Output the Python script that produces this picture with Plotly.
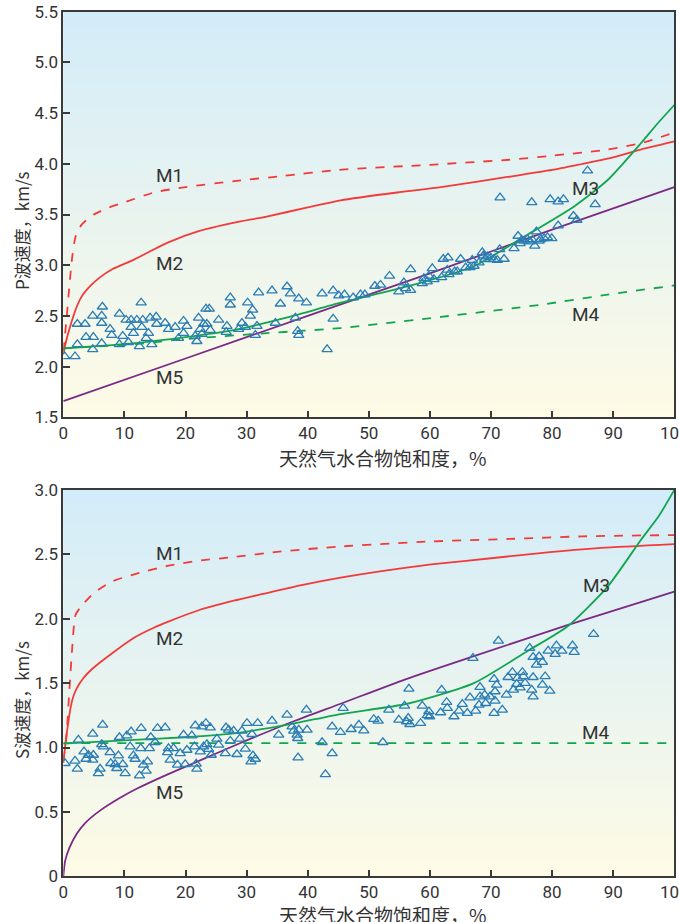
import plotly.graph_objects as go

# ---------------- data ----------------
# P-wave model curves (x = hydrate saturation %, y = km/s)
P_M1_x = [0, 0.5, 1, 1.5, 2, 3, 5, 7.5, 10, 15, 20, 28, 36, 45, 60, 73, 80, 89, 95, 100]
P_M1_y = [2.15, 2.45, 2.8, 3.1, 3.28, 3.4, 3.5, 3.57, 3.62, 3.72, 3.77, 3.83, 3.88, 3.94, 3.99, 4.04, 4.08, 4.14, 4.21, 4.31]
P_M2_x = [0, 0.5, 1, 1.5, 2.2, 3, 4.5, 6, 8, 11.4, 14, 17, 22.4, 28, 33.3, 40, 45.4, 55, 61.8, 72.7, 80, 85, 89.1, 94.5, 100]
P_M2_y = [2.12, 2.26, 2.37, 2.47, 2.59, 2.69, 2.8, 2.88, 2.96, 3.05, 3.13, 3.22, 3.34, 3.42, 3.48, 3.57, 3.64, 3.72, 3.77, 3.87, 3.94, 4.0, 4.05, 4.14, 4.22]
P_M3_x = [0, 11.4, 20, 27.9, 37, 45.4, 56.3, 67.2, 75.4, 83.6, 89.1, 94.5, 97.3, 100]
P_M3_y = [2.18, 2.23, 2.29, 2.36, 2.49, 2.63, 2.79, 2.99, 3.28, 3.58, 3.84, 4.2, 4.4, 4.58]
P_M4_x = [0, 11.4, 19.7, 33.3, 45.4, 61.8, 78.1, 89.1, 100]
P_M4_y = [2.18, 2.22, 2.27, 2.33, 2.38, 2.49, 2.61, 2.71, 2.80]
P_M5_x = [0, 20, 40, 60, 80, 100]
P_M5_y = [1.66, 2.08, 2.5, 2.92, 3.35, 3.77]

# P-wave measured points
P_pts_x = [0.23, 1.92, 2.30, 2.30, 3.56, 3.72, 4.92, 4.82, 4.82, 6.29,
           6.40, 6.29, 6.29, 7.66, 7.93, 9.19, 9.19, 9.73, 10.28, 11.10,
           11.10, 11.48, 10.66, 12.03, 12.74, 13.01, 12.85, 12.46, 13.94, 13.56,
           14.21, 15.20, 15.30, 14.49, 16.67, 17.22, 18.31, 18.86, 19.68, 20.23,
           19.68, 21.59, 21.86, 22.14, 22.41, 22.96, 23.34, 23.89, 22.68, 23.50,
           24.05, 25.42, 26.78, 26.67, 27.33, 27.33, 28.69, 29.24, 29.79, 30.17,
           30.99, 30.61, 31.70, 31.43, 31.97, 34.16, 34.71, 35.53, 36.62, 37.16,
           37.98, 38.53, 39.79, 38.36, 38.53, 42.36, 43.18, 44.16, 44.16, 45.09,
           46.02, 47.44, 48.64, 49.35, 50.99, 51.92, 53.39, 54.92, 55.74, 56.02,
           56.84, 56.84, 58.75, 59.02, 59.57, 59.84, 60.39, 60.66, 61.92, 62.19,
           62.96, 62.85, 63.12, 64.05, 64.49, 65.03, 65.85, 66.56, 66.94, 67.22,
           68.04, 68.58, 68.75, 68.97, 69.40, 69.95, 70.50, 71.04, 71.43, 72.14,
           71.48, 73.77, 74.43, 74.76, 75.03, 75.41, 75.96, 76.40, 76.78, 77.16,
           77.44, 77.87, 78.15, 78.69, 79.24, 79.95, 76.67, 79.68, 80.99, 81.86,
           80.99, 83.50, 84.05, 85.80, 87.05]
P_pts_y = [2.10, 2.10, 2.22, 2.42, 2.42, 2.29, 2.29, 2.17, 2.50, 2.50,
           2.59, 2.43, 2.23, 2.37, 2.31, 2.52, 2.22, 2.30, 2.46, 2.46,
           2.39, 2.33, 2.24, 2.46, 2.63, 2.46, 2.39, 2.20, 2.33, 2.28,
           2.48, 2.49, 2.42, 2.22, 2.43, 2.37, 2.39, 2.28, 2.45, 2.40,
           2.33, 2.30, 2.25, 2.48, 2.37, 2.42, 2.57, 2.57, 2.32, 2.42,
           2.36, 2.46, 2.40, 2.34, 2.68, 2.61, 2.37, 2.43, 2.39, 2.63,
           2.56, 2.50, 2.40, 2.31, 2.73, 2.75, 2.43, 2.62, 2.79, 2.72,
           2.48, 2.67, 2.63, 2.35, 2.31, 2.72, 2.17, 2.75, 2.47, 2.70,
           2.71, 2.68, 2.71, 2.71, 2.795, 2.805, 2.894, 2.74, 2.828, 2.772,
           2.755, 2.959, 2.821, 2.871, 2.838, 2.894, 2.969, 2.861, 2.88, 3.061,
           3.074, 2.953, 2.91, 2.936, 2.936, 3.061, 2.976, 2.979, 3.051, 2.992,
           3.025, 3.127, 3.094, 3.058, 3.084, 3.074, 3.058, 3.051, 3.156, 3.061,
           3.666, 3.166, 3.288, 3.216, 3.249, 3.239, 3.255, 3.232, 3.249, 3.19,
           3.331, 3.239, 3.255, 3.265, 3.275, 3.265, 3.62, 3.65, 3.627, 3.65,
           3.39, 3.485, 3.446, 3.932, 3.60]

# S-wave model curves
S_M1_x = [0, 0.5, 1, 1.5, 2, 3, 5, 8, 12, 17, 22, 28, 35, 45, 60, 73, 85, 100]
S_M1_y = [0.9, 1.08, 1.45, 1.8, 2.03, 2.1, 2.2, 2.29, 2.35, 2.41, 2.45, 2.48, 2.52, 2.56, 2.6, 2.62, 2.64, 2.65]
S_M2_x = [0, 0.4, 0.8, 1.2, 1.6, 2.2, 3.3, 4.5, 6, 8.5, 11.5, 14.8, 17.3, 22.4, 27.9, 33.3, 38.8, 45.4, 55, 61.8, 70, 78.1, 88, 100]
S_M2_y = [0.88, 1.05, 1.19, 1.31, 1.39, 1.46, 1.54, 1.6, 1.66, 1.75, 1.85, 1.93, 1.98, 2.07, 2.14, 2.2, 2.26, 2.32, 2.39, 2.43, 2.47, 2.51, 2.55, 2.58]
S_M3_x = [0, 11.5, 20, 27.9, 37, 45.4, 56.3, 67.2, 76, 82.5, 89.1, 94.5, 97.5, 100]
S_M3_y = [1.03, 1.06, 1.08, 1.11, 1.18, 1.26, 1.34, 1.5, 1.75, 1.94, 2.25, 2.61, 2.8, 3.0]
S_M4_x = [0, 100]
S_M4_y = [1.035, 1.035]
S_M5_x = [0, 0.3, 1, 2.2, 3.5, 6, 9.3, 12, 17, 22.4, 29, 37.5, 45.4, 56, 67.2, 82.5, 100]
S_M5_y = [0, 0.12, 0.22, 0.33, 0.41, 0.51, 0.61, 0.68, 0.79, 0.9, 1.035, 1.2, 1.34, 1.53, 1.71, 1.95, 2.21]

# S-wave measured points
S_pts_x = [0.28, 1.92, 2.30, 2.47, 3.39, 3.72, 4.10, 4.92, 4.82, 4.82,
           6.02, 5.74, 6.29, 6.45, 6.56, 7.66, 7.77, 8.48, 8.75, 9.02,
           9.19, 9.73, 10.12, 10.39, 10.94, 11.10, 11.48, 11.75, 12.47, 12.68,
           12.74, 13.12, 13.56, 13.78, 14.10, 14.32, 15.03, 15.42, 16.67, 17.22,
           17.06, 18.04, 17.49, 18.70, 19.13, 19.68, 19.95, 20.23, 21.04, 21.48,
           21.59, 21.75, 21.86, 22.41, 22.68, 22.96, 23.34, 23.50, 23.78, 24.05,
           24.21, 25.14, 25.42, 26.51, 26.62, 27.06, 27.33, 27.88, 28.42, 28.86,
           29.24, 29.79, 30.06, 30.72, 31.04, 31.43, 31.81, 30.88, 34.16, 35.25,
           36.62, 37.44, 37.71, 38.26, 38.42, 38.37, 38.53, 39.79, 39.90, 42.36,
           42.90, 44.00, 44.00,
           45.36, 45.80, 47.11, 48.37, 49.18, 50.82, 51.53, 52.30, 53.28, 54.92,
           55.85, 56.18, 56.45, 56.73, 56.56, 58.47, 58.75, 59.57, 59.84, 59.95,
           61.75, 61.92, 62.74, 62.85, 63.94, 64.76, 65.30, 66.12, 66.56, 67.05,
           67.49, 68.04, 68.20, 68.20, 68.97, 69.13, 69.84, 70.50, 70.50, 70.66,
           70.66, 70.93, 71.21, 71.86, 72.52, 72.79, 73.50, 73.67, 74.21, 74.32,
           74.76, 75.14, 75.30, 75.58, 76.34, 76.67, 76.89, 76.89, 76.89, 77.44,
           77.87, 78.42, 78.42, 78.86, 79.35, 79.62, 80.50, 80.71, 81.59, 83.34,
           83.61, 86.78]
S_pts_y = [0.878, 0.896, 0.834, 1.059, 0.968, 0.911, 0.942, 0.942, 0.904, 1.106,
           0.834, 0.800, 1.025, 1.176, 1.007, 0.963, 0.878, 0.870, 0.839, 0.937,
           1.080, 0.870, 0.800, 1.093, 1.007, 1.124, 0.937, 0.911, 0.782, 0.994,
           1.150, 0.865, 0.818, 0.891, 0.994, 1.080, 1.041, 1.150, 1.155, 0.994,
           0.963, 0.994, 0.904, 0.865, 0.955, 1.098, 0.870, 0.981, 1.093, 1.007,
           1.170, 0.873, 0.834, 0.968, 1.163, 1.007, 1.189, 1.025, 0.987, 1.155,
           0.942, 1.067, 1.020, 0.955, 1.155, 1.137, 1.051, 1.129, 0.948, 1.067,
           1.129, 0.989, 1.189, 0.891, 0.937, 0.911, 1.189, 1.103, 1.207, 1.098,
           1.253, 1.163, 1.129, 1.098, 0.922, 1.072, 1.137, 1.292, 1.137, 1.041,
           0.792, 0.955, 1.163,
           1.119, 1.306, 1.142, 1.176, 1.132, 1.220, 1.207, 1.041, 1.293, 1.215,
           1.324, 1.202, 1.228, 1.181, 1.456, 1.189, 1.324, 1.249, 1.280, 1.241,
           1.272, 1.448, 1.352, 1.306, 1.241, 1.285, 1.337, 1.267, 1.388, 1.694,
           1.285, 1.331, 1.469, 1.396, 1.409, 1.344, 1.396, 1.531, 1.267, 1.435,
           1.362, 1.487, 1.829, 1.293, 1.409, 1.546, 1.585, 1.448, 1.492, 1.539,
           1.466, 1.585, 1.552, 1.500, 1.772, 1.448, 1.546, 1.396, 1.702, 1.642,
           1.707, 1.663, 1.487, 1.552, 1.751, 1.440, 1.725, 1.792, 1.751, 1.792,
           1.741, 1.880]

# tick labels
X_TICKS = [0, 10, 20, 30, 40, 50, 60, 70, 80, 90, 100]
P_YTICKS = [1.5, 2.0, 2.5, 3.0, 3.5, 4.0, 4.5, 5.0, 5.5]
P_YTICKTEXT = ["1.5", "2.0", "2.5", "3.0", "3.5", "4.0", "4.5", "5.0", "5.5"]
S_YTICKS = [0, 0.5, 1.0, 1.5, 2.0, 2.5, 3.0]
S_YTICKTEXT = ["0", "0.5", "1.0", "1.5", "2.0", "2.5", "3.0"]

# curve labels
P_LABELS = [("M1", 17.3, 3.88), ("M2", 17.3, 3.02), ("M5", 17.3, 1.89), ("M3", 85.5, 3.76), ("M4", 85.5, 2.51)]
S_LABELS = [("M1", 17.3, 2.51), ("M2", 17.3, 1.85), ("M5", 17.3, 0.65), ("M3", 87.2, 2.26), ("M4", 87.2, 1.12)]

X_TITLE = "天然气水合物饱和度，%"
P_Y_TITLE = "P波速度，km/s"
S_Y_TITLE = "S波速度，km/s"

# ---------------- styling ----------------
RED = "#f23a3a"
GREEN = "#12a550"
PURPLE = "#7b2a86"
BLUE = "#2a7db5"
AX = "#3a3a3a"
NUM_FONT = "Liberation Sans Narrow, Roboto, Arial, sans-serif"
CJK_FONT = "Noto Sans CJK SC, sans-serif"

W, H = 679, 922
xl, xr = 63.3 / W, 674.3 / W
top_dom = [1 - 417.3 / H, 1 - 11.7 / H]
bot_dom = [1 - 876.3 / H, 1 - 490.0 / H]

fig = go.Figure()


def add_curves(xa, ya, curves):
    for x, y, color, dash in curves:
        fig.add_trace(go.Scatter(x=x, y=y, mode="lines", xaxis=xa, yaxis=ya,
                                 line=dict(color=color, width=1.8, dash=dash, shape="spline", smoothing=0.6),
                                 hoverinfo="skip", showlegend=False))


add_curves("x", "y", [
    (P_M1_x, P_M1_y, RED, "dash"),
    (P_M2_x, P_M2_y, RED, "solid"),
    (P_M4_x, P_M4_y, GREEN, "dash"),
    (P_M5_x, P_M5_y, PURPLE, "solid"),
    (P_M3_x, P_M3_y, GREEN, "solid"),
])
fig.add_trace(go.Scatter(x=P_pts_x, y=P_pts_y, mode="markers", xaxis="x", yaxis="y",
                         marker=dict(symbol="triangle-up-open", size=9, color=BLUE, line=dict(width=1.3, color=BLUE)),
                         showlegend=False))

add_curves("x2", "y2", [
    (S_M1_x, S_M1_y, RED, "dash"),
    (S_M2_x, S_M2_y, RED, "solid"),
    (S_M4_x, S_M4_y, GREEN, "dash"),
    (S_M5_x, S_M5_y, PURPLE, "solid"),
    (S_M3_x, S_M3_y, GREEN, "solid"),
])
fig.add_trace(go.Scatter(x=S_pts_x, y=S_pts_y, mode="markers", xaxis="x2", yaxis="y2",
                         marker=dict(symbol="triangle-up-open", size=9, color=BLUE, line=dict(width=1.3, color=BLUE)),
                         showlegend=False))

# gradient background via stacked rectangles
TOP_RGB = (211, 236, 249)
BOT_RGB = (254, 251, 230)
shapes = []
N = 80
for xa, ya in (("x", "y"), ("x2", "y2")):
    for i in range(N):
        t = i / (N - 1)
        c = tuple(round(BOT_RGB[k] + (TOP_RGB[k] - BOT_RGB[k]) * t) for k in range(3))
        shapes.append(dict(type="rect", xref=f"{xa} domain", yref=f"{ya} domain",
                           x0=0, x1=1, y0=i / N, y1=min(1, (i + 1.6) / N),
                           fillcolor="rgb(%d,%d,%d)" % c, line=dict(width=0), layer="below"))

annotations = []
for xa, ya, labels in (("x", "y", P_LABELS), ("x2", "y2", S_LABELS)):
    for txt, lx, ly in labels:
        annotations.append(dict(text=txt, x=lx, y=ly, xref=xa, yref=ya, showarrow=False,
                                font=dict(family=NUM_FONT, size=19, color="#333333")))

# axis titles
for ypix in (442, 899):
    annotations.append(dict(text=X_TITLE, x=383 / W, y=1 - ypix / H, xref="paper", yref="paper",
                            showarrow=False, xanchor="center", yanchor="top",
                            font=dict(family=CJK_FONT, size=19, color="#333333")))
for ttl, ypix in ((P_Y_TITLE, 231), (S_Y_TITLE, 700)):
    annotations.append(dict(text=ttl, x=21 / W, y=1 - ypix / H, xref="paper", yref="paper",
                            showarrow=False, textangle=-90, xanchor="center", yanchor="middle",
                            font=dict(family=CJK_FONT, size=17, color="#333333")))

axis_common = dict(showline=True, mirror=True, linecolor=AX, linewidth=1.5,
                   ticks="inside", ticklen=7, tickwidth=1.5, tickcolor=AX,
                   showgrid=False, zeroline=False, automargin=False,
                   ticklabeloverflow="allow",
                   tickfont=dict(family=NUM_FONT, size=17, color="#333333"))

fig.update_layout(
    width=W, height=H,
    margin=dict(l=0, r=0, t=0, b=0, autoexpand=False),
    paper_bgcolor="white", plot_bgcolor="rgba(0,0,0,0)",
    showlegend=False,
    xaxis=dict(domain=[xl, xr], range=[0, 100], anchor="y", tickvals=X_TICKS, **axis_common),
    yaxis=dict(domain=top_dom, range=[1.5, 5.5], anchor="x", tickvals=P_YTICKS, ticktext=P_YTICKTEXT, **axis_common),
    xaxis2=dict(domain=[xl, xr], range=[0, 100], anchor="y2", tickvals=X_TICKS, **axis_common),
    yaxis2=dict(domain=bot_dom, range=[0, 3.0], anchor="x2", tickvals=S_YTICKS, ticktext=S_YTICKTEXT, **axis_common),
    shapes=shapes,
    annotations=annotations,
)

fig.write_html("out.html", config={"displayModeBar": False},
               post_script="document.body.style.margin='0';document.body.style.overflow='hidden';")
